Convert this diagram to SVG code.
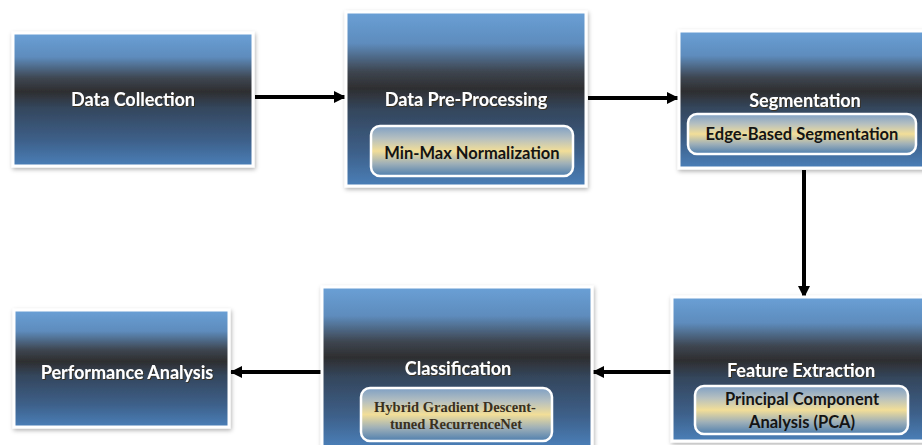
<svg xmlns="http://www.w3.org/2000/svg" width="922" height="445" viewBox="0 0 922 445">
<defs>
<linearGradient id="gMain" x1="0" y1="0" x2="0" y2="1">
<stop offset="0" stop-color="#6aa0d6"/>
<stop offset="0.18" stop-color="#5e8cbd"/>
<stop offset="0.34" stop-color="#3e4651"/>
<stop offset="0.44" stop-color="#2e2e30"/>
<stop offset="0.56" stop-color="#34465c"/>
<stop offset="0.8" stop-color="#3d5f88"/>
<stop offset="1" stop-color="#4a7fb8"/>
</linearGradient>
<linearGradient id="gSub" x1="0" y1="0" x2="0" y2="1">
<stop offset="0" stop-color="#7e9fc4"/>
<stop offset="0.25" stop-color="#b6c0c0"/>
<stop offset="0.5" stop-color="#f2de98"/>
<stop offset="0.75" stop-color="#9fb0b8"/>
<stop offset="1" stop-color="#4e7eae"/>
</linearGradient>
<filter id="sh" x="-10%" y="-10%" width="120%" height="120%">
<feDropShadow dx="1" dy="2" stdDeviation="2" flood-color="#000" flood-opacity="0.3"/>
</filter>
<filter id="ts" x="-5%" y="-20%" width="110%" height="140%">
<feDropShadow dx="1" dy="1" stdDeviation="0.6" flood-color="#3a2a10" flood-opacity="0.8"/>
</filter>
<marker id="ah" markerWidth="12" markerHeight="12" refX="11" refY="6" orient="auto" markerUnits="userSpaceOnUse">
<path d="M0,0 L12,6 L0,12 Z" fill="#000"/>
</marker>
</defs>
<style>
.box{fill:url(#gMain);stroke:#ffffff;stroke-width:3;filter:url(#sh)}
.sub{fill:url(#gSub);stroke:#ffffff;stroke-width:2.5}
.t{font-family:Lato,"Open Sans",sans-serif;font-weight:bold;font-size:18px;fill:#ffffff;text-anchor:middle;filter:url(#ts)}
.s{font-family:Lato,"Open Sans",sans-serif;font-weight:bold;font-size:16.5px;fill:#141414;text-anchor:middle}
.sr{font-family:"Liberation Serif","Times New Roman",serif;font-weight:bold;font-size:14.5px;fill:#3a3020;text-anchor:middle}
.c{stroke:#000;stroke-width:4;fill:none;marker-end:url(#ah)}
</style>
<rect width="922" height="445" fill="#ffffff"/>
<g id="connectors">
<line class="c" x1="255" y1="97" x2="345" y2="97"/>
<line class="c" x1="588" y1="98" x2="678" y2="98"/>
<line class="c" x1="804" y1="170" x2="804" y2="297"/>
<line class="c" x1="673" y1="372" x2="593" y2="372"/>
<line class="c" x1="323" y1="372" x2="231" y2="372"/>
</g>
<g id="data-collection">
<rect class="box" x="13" y="33" width="240" height="133"/>
<text class="t" x="133" y="106">Data Collection</text>
</g>
<g id="data-preprocessing">
<rect class="box" x="346" y="12" width="240" height="174"/>
<text class="t" x="466" y="106">Data Pre-Processing</text>
<g id="min-max">
<rect class="sub" x="371" y="126" width="202" height="50" rx="9"/>
<text class="s" x="472" y="159">Min-Max Normalization</text>
</g>
</g>
<g id="segmentation">
<rect class="box" x="679" y="31" width="252" height="137"/>
<text class="t" x="805" y="107">Segmentation</text>
<g id="edge-based">
<rect class="sub" x="688" y="114" width="228" height="40" rx="9"/>
<text class="s" x="802" y="140">Edge-Based Segmentation</text>
</g>
</g>
<g id="feature-extraction">
<rect class="box" x="672" y="297" width="260" height="144"/>
<text class="t" x="801" y="377">Feature Extraction</text>
<g id="pca">
<rect class="sub" x="695" y="386" width="213" height="48" rx="9"/>
<text class="s" x="802" y="405">Principal Component</text>
<text class="s" x="802" y="428">Analysis (PCA)</text>
</g>
</g>
<g id="classification">
<rect class="box" x="322" y="287" width="270" height="160"/>
<text class="t" x="458" y="375">Classification</text>
<g id="hybrid">
<rect class="sub" x="361" y="388" width="191" height="53" rx="9"/>
<text class="sr" x="455" y="412">Hybrid Gradient Descent-</text>
<text class="sr" x="456" y="429">tuned RecurrenceNet</text>
</g>
</g>
<g id="performance-analysis">
<rect class="box" x="14" y="310" width="215" height="117"/>
<text class="t" x="127" y="379">Performance Analysis</text>
</g>
</svg>
